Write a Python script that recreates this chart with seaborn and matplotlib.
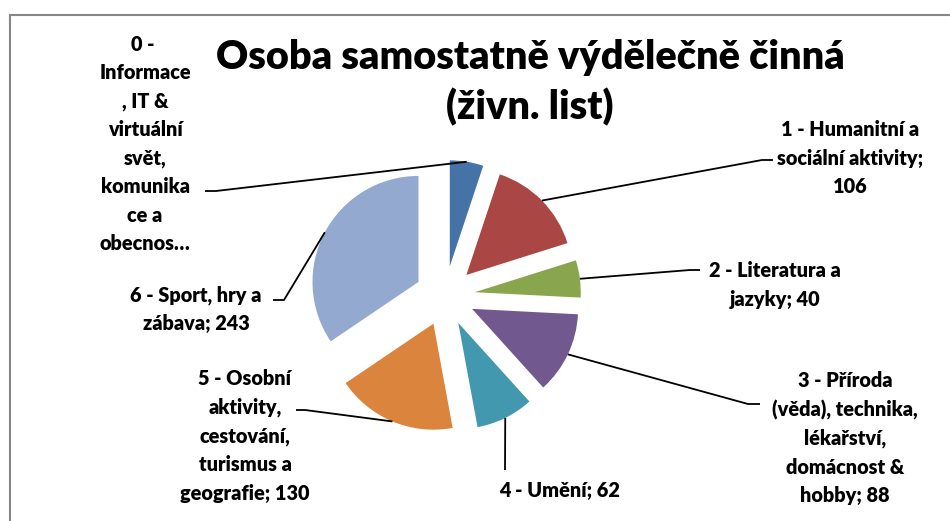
import matplotlib
matplotlib.use("Agg")
import matplotlib.pyplot as plt
import seaborn as sns
import numpy as np
from matplotlib.patches import Rectangle

# ---- data ----
categories = [
    "0 - Informace, IT & virtuální svět, komunikace a obecnosti",
    "1 - Humanitní a sociální aktivity",
    "2 - Literatura a jazyky",
    "3 - Příroda (věda), technika, lékařství, domácnost & hobby",
    "4 - Umění",
    "5 - Osobní aktivity, cestování, turismus a geografie",
    "6 - Sport, hry a zábava",
]
values = [36, 106, 40, 88, 62, 130, 243]
label_texts = [
    "0 - \nInformace\n, IT &\nvirtuální\nsvět,\nkomunika\nce a\nobecnos…",
    "1 - Humanitní a\nsociální aktivity;\n106",
    "2 - Literatura a\njazyky; 40",
    "3 - Příroda\n(věda), technika,\nlékařství,\ndomácnost &\nhobby; 88",
    "4 - Umění; 62",
    "5 - Osobní\naktivity,\ncestování,\nturismus a\ngeografie; 130",
    "6 - Sport, hry a\nzábava; 243",
]
title = "Osoba samostatně výdělečně činná\n(živn. list)"
colors = ["#4572A7", "#AA4643", "#89A54E", "#71588F", "#4198AF", "#DB843D", "#93A9CF"]

# ---- layout (pixels, y from top) ----
W, H = 950, 521
pie_center = (445, 296)
pie_radius = 106
explode_px = 30
label_pos = [(145, 144), (850, 158), (775, 285), (845, 438), (560, 490), (245, 436), (196, 309)]
leader_pts = [
    [(216, 191), (205, 191)],
    [(762, 160), (773, 160)],
    [(690, 270), (700, 270)],
    [(748, 404), (760, 404)],
    [(505, 470)],
    [(305, 410), (296, 410)],
    [(284, 300), (273, 300)],
]

sns.set_theme(style="white")
plt.rcParams['font.family'] = ['Lato', 'DejaVu Sans']

fig = plt.figure(figsize=(W / 100, H / 100), dpi=100)
ax = fig.add_axes([0, 0, 1, 1])

def fy(y):
    return H - y

wedges, _ = ax.pie(values, colors=colors, startangle=90, counterclock=False,
                   explode=[explode_px] * len(values), radius=pie_radius,
                   center=(pie_center[0], fy(pie_center[1])),
                   wedgeprops=dict(linewidth=0))

ax.set_xlim(0, W)
ax.set_ylim(0, H)
ax.set_aspect('auto')
ax.axis('off')

# leaders
for w, pts in zip(wedges, leader_pts):
    tm = np.deg2rad(0.5 * (w.theta1 + w.theta2))
    cx, cy = w.center
    ax_pt = (cx + w.r * np.cos(tm), cy + w.r * np.sin(tm))
    xs = [ax_pt[0]] + [p[0] for p in pts]
    ys = [ax_pt[1]] + [fy(p[1]) for p in pts]
    ax.plot(xs, ys, color="black", lw=1.3, solid_capstyle='butt')

# labels
for txt, (x, y) in zip(label_texts, label_pos):
    ax.text(x, fy(y), txt, ha="center", va="center", fontsize=14.3,
            fontweight="heavy", linespacing=1.58, color="black")

ax.text(530, fy(83), title, ha="center", va="center", fontsize=28.5,
        fontweight="heavy", linespacing=1.38, color="black")

# chart border
ax.add_patch(Rectangle((10, -20), W + 20, fy(15) + 20, fill=False,
                       edgecolor="#878787", lw=1.5, clip_on=False))

fig.savefig("out.png", dpi=100)
